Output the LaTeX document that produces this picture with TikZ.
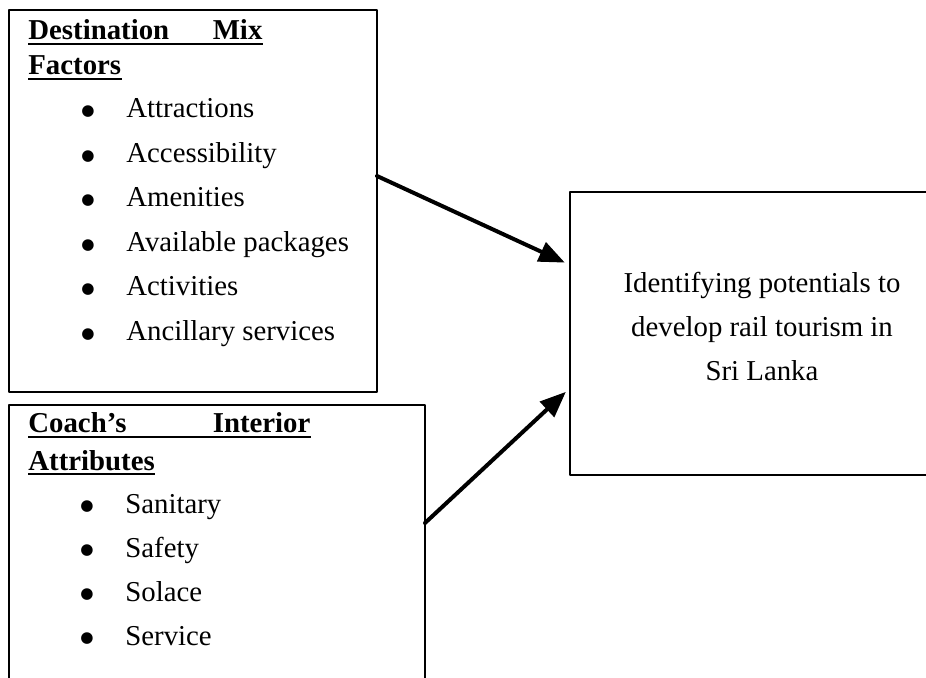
\documentclass[tikz,border=0pt]{standalone}
\usepackage{fontspec}
\setmainfont{Liberation Serif}
\newfontfamily\dotfont{DejaVu Sans}
\usetikzlibrary{arrows}

\newcommand{\itembullet}{\makebox[22.5pt][l]{\raisebox{1.2pt}{\dotfont\fontsize{7.6}{8}\selectfont ●}}}

\begin{document}
\begin{tikzpicture}[x=0.5pt, y=-0.5pt, line cap=round, line join=round, >=triangle 45]
\tikzset{
    panel/.style=    {draw, line width=0.9pt, rectangle, inner sep=0pt, outer sep=0pt},
    heading/.style=  {anchor=base west, inner sep=0pt, font=\fontsize{14.4}{17}\selectfont\bfseries},
    item/.style=     {anchor=base west, inner sep=0pt, font=\fontsize{14.4}{17}\selectfont},
    goaltext/.style= {anchor=base, inner sep=0pt, align=center, font=\fontsize{14.4}{22}\selectfont},
    uline/.style=    {line width=1.1pt, line cap=butt},
    flow/.style=     {->, line width=2pt, shorten >=3pt}
}
%% page size
\useasboundingbox (0,0) rectangle (926,678);

%% the three boxes
\node[panel, minimum width=184pt, minimum height=191pt]   (mixbox)   at (193,201)   {};
\node[panel, minimum width=208pt, minimum height=147.5pt] (coachbox) at (217,552.5) {};
\node[panel, minimum width=190pt, minimum height=141.5pt] (goal)     at (760,333.5) {};

%% destination mix factors
\node[heading] (mixhead)  at (28,40) {\makebox[117pt][s]{Destination\hfill Mix}};
\node[heading] (mixhead2) at (28,75) {Factors};
\draw[uline] ([yshift=-2pt]mixhead.base west) -- ([yshift=-2pt]mixhead.base east);
\draw[uline] ([yshift=-2pt]mixhead2.base west) -- ([yshift=-2pt]mixhead2.base east);

\node[item] (attract)   at (81,118)   {\itembullet Attractions};
\node[item] (access)    at (81,162.5) {\itembullet Accessibility};
\node[item] (amenity)   at (81,207)   {\itembullet Amenities};
\node[item] (packages)  at (81,251.5) {\itembullet Available packages};
\node[item] (activity)  at (81,296)   {\itembullet Activities};
\node[item] (ancillary) at (81,340.5) {\itembullet Ancillary services};

%% coach's interior attributes
\node[heading] (coachhead)  at (28,433) {\makebox[141pt][s]{Coach’s\hfill Interior}};
\node[heading] (coachhead2) at (28,470) {Attributes};
\draw[uline] ([yshift=-2pt]coachhead.base west) -- ([yshift=-2pt]coachhead.base east);
\draw[uline] ([yshift=-2pt]coachhead2.base west) -- ([yshift=-2pt]coachhead2.base east);

\node[item] (sanitary) at (80,513) {\itembullet Sanitary};
\node[item] (safety)   at (80,557) {\itembullet Safety};
\node[item] (solace)   at (80,601) {\itembullet Solace};
\node[item] (service)  at (80,645) {\itembullet Service};

%% goal
\node[goaltext] (goalname) at (762,381) {Identifying potentials to\\develop rail tourism in\\Sri Lanka};

%% arrows
\draw[flow] (mixbox.east |- 0,176) -- (goal.west |- 0,265);
\draw[flow] (coachbox.east |- 0,523) -- (goal.west |- 0,388);

\end{tikzpicture}
\end{document}
